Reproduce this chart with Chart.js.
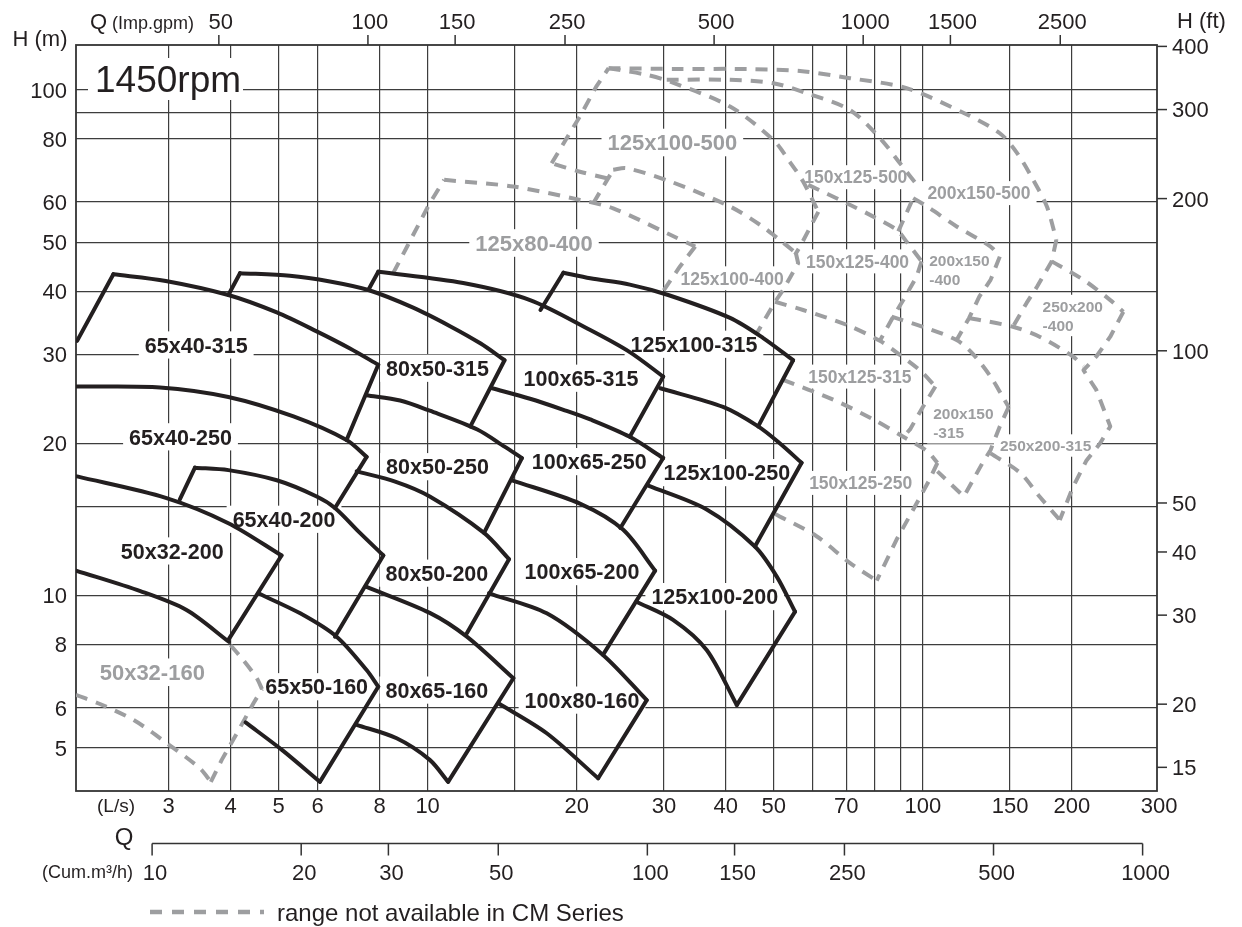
<!DOCTYPE html>
<html>
<head>
<meta charset="utf-8">
<script src="https://cdn.jsdelivr.net/npm/chart.js@4.4.1/dist/chart.umd.min.js"></script>
<style>
  html, body { margin: 0; padding: 0; background: #fff; }
  #wrap { width: 1242px; height: 927px; position: relative; }
</style>
</head>
<body>
<div id="wrap"><canvas id="chart"></canvas></div>
<script>
// Axes: Q in L/s (x, log), H in m (y, log)
const qGrid = [3, 4, 5, 6, 8, 10, 15, 20, 30, 40, 50, 60, 70, 80, 90, 100, 150, 200];
const qTicks = [3, 4, 5, 6, 8, 10, 20, 30, 40, 50, 70, 100, 150, 200, 300];
const hGrid = [5, 6, 8, 10, 15, 20, 30, 40, 50, 60, 80, 90, 100];
const hTicks = [5, 6, 8, 10, 20, 30, 40, 50, 60, 80, 100];
const gpmTicks = [50, 100, 150, 250, 500, 1000, 1500, 2500];
const ftTicks = [15, 20, 30, 40, 50, 100, 200, 300, 400];
const cumTicks = [10, 20, 30, 50, 100, 150, 250, 500, 1000];

// Solid pump ranges: impeller curves as [Q, H]
const t65x40_315 = [[2.32, 43.2], [2.96, 41.9], [3.96, 39.3], [4.96, 36.3], [5.97, 33.3], [6.97, 30.8], [7.95, 28.6]];
const t80x50_315 = [[4.18, 43.4], [5.27, 42.9], [6.35, 41.8], [7.59, 40.2], [9.35, 37.1], [11.1, 34.1], [12.8, 31.5], [14.3, 29.2]];
const t100x65_315 = [[7.95, 43.7], [11.8, 41.5], [16.1, 38.4], [21.3, 33.5], [25.6, 30.3], [29.9, 27.1]];
const t125x100_315 = [[18.8, 43.5], [21.3, 42.4], [25.6, 41.2], [30.6, 39.3], [40.8, 35.4], [47.6, 32.3], [54.7, 29.2]];
const t65x40_250 = [[1.96, 25.9], [2.88, 25.8], [3.96, 24.7], [5.36, 22.6], [6.86, 20.3], [7.53, 18.8]];
const t80x50_250 = [[7.53, 24.9], [8.8, 24.3], [10.1, 23.2], [12.6, 21.3], [14.3, 19.7], [15.5, 18.7]];
const t100x65_250 = [[13.5, 25.7], [16.1, 24.5], [18.8, 23.3], [21.3, 22.3], [25.6, 20.6], [29.9, 18.7]];
const t125x100_250 = [[29.5, 25.7], [39.5, 23.6], [46.5, 21.6], [51.4, 20.0], [56.9, 18.3]];
const t65x40_200 = [[3.39, 17.9], [3.96, 17.7], [4.96, 16.9], [5.97, 15.7], [6.5, 14.9], [7.3, 13.3], [8.14, 12.0]];
const t50x32_200 = [[1.96, 17.2], [2.96, 15.6], [3.96, 13.9], [5.07, 12.0]];
const b50x32_200 = [[1.95, 11.2], [2.63, 10.2], [3.26, 9.36], [3.97, 8.1]];
const t80x50_200 = [[7.19, 17.6], [8.6, 16.8], [10.1, 15.7], [13.0, 13.3], [14.6, 11.8]];
const t100x65_200 = [[14.8, 16.9], [20.3, 15.2], [24.8, 13.5], [28.8, 11.2]];
const t125x100_200 = [[27.9, 16.5], [36.6, 14.8], [45.8, 12.5], [50.7, 10.9], [55.2, 9.29]];
const b125x100_200 = [[26.4, 9.72], [31.3, 8.95], [36.6, 7.8], [42.1, 6.07]];
const t65x50_160 = [[4.55, 10.1], [5.53, 9.22], [6.55, 8.29], [7.53, 7.12], [7.95, 6.6]];
const b65x50_160 = [[4.29, 5.61], [5.08, 4.95], [6.06, 4.28]];
const t80x65_160 = [[7.53, 10.4], [10.1, 9.24], [12.0, 8.29], [14.9, 6.86]];
const b80x65_160 = [[7.19, 5.55], [8.66, 5.22], [10.1, 4.73], [11.0, 4.28]];
const t100x80_160 = [[13.3, 10.1], [17.4, 9.22], [22.6, 7.63], [27.7, 6.21]];
const b100x80_160 = [[13.9, 6.12], [17.4, 5.34], [22.1, 4.35]];

// Solid straight range limits
const solidEdges = [
  [[1.96, 31.9], [2.32, 43.2]], [[7.95, 28.6], [6.86, 20.3]],
  [[3.96, 39.3], [4.18, 43.4]], [[14.3, 29.2], [12.2, 21.6]],
  [[7.59, 40.2], [7.95, 43.7]], [[29.9, 27.1], [25.6, 20.6]],
  [[16.9, 36.7], [18.8, 43.5]], [[54.7, 29.2], [46.5, 21.6]],
  [[7.53, 18.8], [6.5, 14.9]], [[15.5, 18.7], [13.0, 13.3]],
  [[29.9, 18.7], [24.5, 13.6]], [[56.9, 18.3], [45.8, 12.5]],
  [[3.16, 15.5], [3.39, 17.9]], [[8.14, 12.0], [6.5, 8.29]],
  [[5.07, 12.0], [3.96, 8.17]], [[14.6, 11.8], [12.0, 8.42]],
  [[28.8, 11.2], [22.6, 7.63]], [[55.2, 9.29], [42.1, 6.07]],
  [[7.95, 6.6], [6.06, 4.28]], [[14.9, 6.86], [11.0, 4.28]],
  [[27.7, 6.21], [22.1, 4.35]],
];

// Dashed ranges (not in CM series): curved parts
const dashedArcs = [
  [[1.95, 6.36], [2.18, 6.1], [2.55, 5.67], [2.97, 5.11], [3.47, 4.55], [3.65, 4.28]],
  [[4.63, 6.53], [4.52, 6.86], [4.24, 7.46], [3.97, 8.04]],
  [[10.8, 66.4], [14.9, 64.4], [20.3, 60.6], [23.7, 58.3], [30.9, 51.7], [34.7, 49.0]],
  [[23.7, 69.5], [25.2, 70.0], [30.9, 65.9], [40.8, 58.8], [46.9, 54.1], [51.4, 50.5], [55.4, 47.6]],
  [[23.0, 66.9], [20.3, 68.9], [17.8, 71.6]],
  [[23.2, 110.4], [27.7, 107.1], [30.9, 103.8], [40.8, 92.7], [49.9, 79.6], [53.9, 72.0], [57.3, 65.9], [61.5, 57.4]],
  [[23.2, 110.4], [32.3, 110.0], [44.1, 110.0], [56.5, 109.0], [71.2, 105.5], [92.7, 100.8], [123, 89.3], [143, 82.1], [155, 75.0], [167, 66.4], [178, 58.8], [186, 50.5]],
  [[182, 45.8], [211, 42.1], [239, 38.4], [254, 36.4]],
  [[124, 35.4], [152, 34.0], [172, 32.5], [201, 29.7], [211, 28.4]],
  [[30.4, 104.7], [40.8, 104.7], [49.9, 103.1], [58.3, 98.5], [71.2, 91.3], [81.9, 80.3], [89.9, 71.6], [97.9, 64.4]],
  [[95.6, 61.1], [102, 58.8], [117, 53.7], [137, 49.0], [143, 46.8]],
  [[58.7, 64.9], [70.2, 59.7], [78.2, 56.6], [88.5, 52.9], [92.7, 50.1], [99.4, 45.8]],
  [[50.3, 38.1], [57.3, 36.7], [70.2, 34.3], [81.9, 31.9], [87.1, 30.6], [98.6, 27.9], [106, 25.9]],
  [[86.5, 35.6], [100, 34.0], [117, 32.0], [126, 30.1], [137, 27.1], [145, 24.7], [149, 23.6]],
  [[137, 19.1], [157, 17.5], [172, 15.7], [189, 14.1]],
  [[52.2, 26.7], [65.9, 24.4], [79.4, 22.3], [91.3, 20.6], [102, 19.3], [107, 18.3]],
  [[50.3, 14.5], [61.0, 13.1], [71.2, 11.6], [80.7, 10.7]],
];

// Dashed ranges: straight limits
const dashedEdges = [
  [[3.65, 4.28], [3.84, 4.73], [4.12, 5.34], [4.45, 6.12], [4.63, 6.53]],
  [[8.52, 43.4], [10.1, 59.7], [10.8, 66.4]],
  [[34.7, 49.0], [32.3, 44.7], [29.7, 39.6]],
  [[21.6, 59.7], [23.7, 69.5]],
  [[55.4, 47.6], [56.0, 45.4], [52.2, 40.2], [50.3, 38.1], [46.2, 33.0]],
  [[17.8, 71.6], [19.1, 80.3], [20.3, 88.6], [21.9, 101.5], [23.2, 110.4]],
  [[61.5, 57.4], [56.5, 49.0], [55.2, 47.2]],
  [[186, 50.5], [182, 45.8], [170, 40.8], [162, 37.9], [152, 34.0]],
  [[254, 36.4], [239, 32.5], [224, 29.7], [211, 27.9], [224, 25.5], [239, 21.6], [228, 20.0], [214, 18.5], [201, 16.4], [189, 14.1]],
  [[89.2, 52.5], [95.6, 61.1]],
  [[143, 46.8], [137, 42.1], [130, 39.0], [124, 35.4], [117, 32.0]],
  [[99.4, 45.8], [97.1, 42.7], [91.3, 38.4], [87.1, 35.6], [81.9, 31.9]],
  [[106, 25.9], [100, 23.6], [94.2, 21.3], [91.3, 20.6]],
  [[149, 23.6], [143, 21.6], [137, 19.4], [132, 18.3], [121, 15.7], [107, 17.6]],
  [[107, 18.3], [103, 16.9], [97.1, 15.2], [88.5, 12.9], [80.7, 10.7]],
];

// Range names [text, Q, H]
const pumpLabels = [
  ['65x40-315', 3.41, 31.3], ['65x40-250', 3.17, 20.6], ['65x40-200', 5.13, 14.15],
  ['50x32-200', 3.05, 12.25], ['80x50-315', 10.47, 28.15], ['100x65-315', 20.4, 26.9],
  ['80x50-250', 10.47, 17.98], ['100x65-250', 21.2, 18.4], ['80x50-200', 10.44, 11.07],
  ['100x65-200', 20.5, 11.15], ['125x100-315', 34.5, 31.4], ['125x100-250', 40.2, 17.5],
  ['125x100-200', 38.0, 9.95], ['65x50-160', 5.97, 6.6], ['80x65-160', 10.44, 6.5],
  ['100x80-160', 20.5, 6.21],
];
const greyLabels = [
  ['50x32-160', 2.78, 7.05], ['125x100-500', 31.2, 78.7], ['125x80-400', 16.4, 49.8],
];
const greyMidLabels = [
  ['125x100-400', 41.2, 42.4], ['150x125-500', 73.2, 67.2], ['200x150-500', 129.8, 62.5],
  ['150x125-400', 73.8, 45.8], ['150x125-315', 74.6, 27.1], ['150x125-250', 74.9, 16.7],
];
const greyStackLabels = [
  [['200x150', '-400'], 103.0, 44.05], [['250x200', '-400'], 174.5, 35.8],
  [['200x150', '-315'], 104.9, 21.96],
];
const greySmallLabels = [['250x200-315', 177, 19.8]];

const INK = '#231f20';
const GREY = '#9d9ea0';
const GRID = '#3d3d3d';
const FONT = "'Liberation Sans', Arial, Helvetica, sans-serif";

function lineSet(points, color, width, dash, tension, order) {
  return {
    data: points.map(([x, y]) => ({ x, y })),
    showLine: true,
    borderColor: color,
    borderWidth: width,
    borderDash: dash,
    borderCapStyle: dash.length ? 'butt' : 'round',
    borderJoinStyle: 'round',
    tension: tension,
    pointRadius: 0,
    pointHoverRadius: 0,
    fill: false,
    order: order,
  };
}

const solidCurves = [t65x40_315, t80x50_315, t100x65_315, t125x100_315, t65x40_250, t80x50_250,
  t100x65_250, t125x100_250, t65x40_200, t50x32_200, b50x32_200, t80x50_200, t100x65_200,
  t125x100_200, b125x100_200, t65x50_160, b65x50_160, t80x65_160, b80x65_160, t100x80_160, b100x80_160];

const datasets = [];
solidCurves.forEach(c => datasets.push(lineSet(c, INK, 4, [], 0.3, 0)));
solidEdges.forEach(c => datasets.push(lineSet(c, INK, 4, [], 0, 0)));
dashedArcs.forEach(c => datasets.push(lineSet(c, GREY, 4, [12, 9], 0.3, 1)));
dashedEdges.forEach(c => datasets.push(lineSet(c, GREY, 4, [12, 9], 0, 1)));

// draw text with its cap height centred on yc
function put(ctx, str, x, yc, size, align, color, bold) {
  ctx.font = (bold ? 'bold ' : '') + size + 'px ' + FONT;
  ctx.fillStyle = color;
  ctx.textAlign = align;
  ctx.textBaseline = 'alphabetic';
  ctx.fillText(str, x, yc + size * 0.36);
}

function labelBox(ctx, lines, x, yc, size, align, lh) {
  ctx.font = 'bold ' + size + 'px ' + FONT;
  const w = Math.max(...lines.map(s => ctx.measureText(s).width));
  const h = size * 0.8 + (lines.length - 1) * lh;
  const left = align === 'left' ? x : x - w / 2;
  ctx.fillStyle = '#fff';
  ctx.fillRect(left - 6, yc - h / 2 - 5, w + 12, h + 10);
}

function eachLabel(list, size, fn) {
  list.forEach(([t, q, h]) => fn(Array.isArray(t) ? t : [t], q, h, size));
}

const decor = {
  id: 'decor',
  beforeDatasetsDraw(chart) {
    const { ctx, chartArea: a, scales: { x, y } } = chart;
    ctx.save();
    // frame
    ctx.strokeStyle = '#333';
    ctx.lineWidth = 1.8;
    ctx.strokeRect(a.left, a.top, a.right - a.left, a.bottom - a.top);
    // white boxes behind names
    const boxes = (list, size, align, lh) => eachLabel(list, size, (lines, q, h) =>
      labelBox(ctx, lines, x.getPixelForValue(q), y.getPixelForValue(h), size, align, lh));
    boxes(pumpLabels, 21.5, 'center', 0);
    boxes(greyLabels, 22, 'center', 0);
    boxes(greyMidLabels, 17.5, 'center', 0);
    boxes(greySmallLabels, 15.5, 'center', 0);
    boxes(greyStackLabels, 15.5, 'left', 19);
    ctx.fillStyle = '#fff';
    ctx.fillRect(88, 58, 155, 42);
    ctx.restore();
  },
  afterDatasetsDraw(chart) {
    const { ctx, chartArea: a, scales: { x, y } } = chart;
    ctx.save();

    // range names
    eachLabel(pumpLabels, 21.5, (l, q, h, s) => put(ctx, l[0], x.getPixelForValue(q), y.getPixelForValue(h), s, 'center', INK, true));
    eachLabel(greyLabels, 22, (l, q, h, s) => put(ctx, l[0], x.getPixelForValue(q), y.getPixelForValue(h), s, 'center', GREY, true));
    eachLabel(greyMidLabels, 17.5, (l, q, h, s) => put(ctx, l[0], x.getPixelForValue(q), y.getPixelForValue(h), s, 'center', GREY, true));
    eachLabel(greySmallLabels, 15.5, (l, q, h, s) => put(ctx, l[0], x.getPixelForValue(q), y.getPixelForValue(h), s, 'center', GREY, true));
    eachLabel(greyStackLabels, 15.5, (l, q, h, s) => {
      const yc = y.getPixelForValue(h);
      l.forEach((str, i) => put(ctx, str, x.getPixelForValue(q), yc - (l.length - 1) * 9.5 + i * 19, s, 'left', GREY, true));
    });
    put(ctx, '1450rpm', 95, 79, 37, 'left', INK, false);

    // left H (m) and bottom Q (L/s)
    hTicks.forEach(v => put(ctx, String(v), 67, y.getPixelForValue(v), 22, 'right', INK, false));
    put(ctx, 'H (m)', 40, 38, 22, 'center', INK, false);
    qTicks.forEach(v => put(ctx, String(v), x.getPixelForValue(v), 805, 22, 'center', INK, false));
    put(ctx, '(L/s)', 116, 805, 19, 'center', INK, false);

    ctx.strokeStyle = '#333';
    ctx.lineWidth = 1.5;

    // top Q (Imp.gpm)
    gpmTicks.forEach(v => {
      const px = x.getPixelForValue(v / 13.198);
      ctx.beginPath(); ctx.moveTo(px, a.top - 10); ctx.lineTo(px, a.top); ctx.stroke();
      put(ctx, String(v), px + 2, 21, 22, 'center', INK, false);
    });
    put(ctx, 'Q', 90, 21, 22, 'left', INK, false);
    put(ctx, '(Imp.gpm)', 112, 22.5, 18, 'left', INK, false);

    // right H (ft)
    ftTicks.forEach(v => {
      const py = y.getPixelForValue(v / 3.2808);
      ctx.beginPath(); ctx.moveTo(a.right, py); ctx.lineTo(a.right + 10, py); ctx.stroke();
      put(ctx, String(v), 1172, py, 22, 'left', INK, false);
    });
    put(ctx, 'H (ft)', 1177, 20, 22, 'left', INK, false);

    // second Q axis in Cum.m3/h
    const axY = 843.5;
    const x0 = x.getPixelForValue(cumTicks[0] / 3.6);
    const x1 = x.getPixelForValue(cumTicks[cumTicks.length - 1] / 3.6);
    ctx.beginPath(); ctx.moveTo(x0, axY); ctx.lineTo(x1, axY); ctx.stroke();
    cumTicks.forEach(v => {
      const px = x.getPixelForValue(v / 3.6);
      ctx.beginPath(); ctx.moveTo(px, axY); ctx.lineTo(px, axY + 12); ctx.stroke();
      put(ctx, String(v), px + 3, 872, 22, 'center', INK, false);
    });
    put(ctx, 'Q', 124, 836, 24, 'center', INK, false);
    put(ctx, '(Cum.m\u00b3/h)', 133, 872, 18, 'right', INK, false);

    // legend
    ctx.strokeStyle = GREY;
    ctx.lineWidth = 4.5;
    ctx.setLineDash([12, 10]);
    ctx.beginPath(); ctx.moveTo(150, 912); ctx.lineTo(264, 912); ctx.stroke();
    ctx.setLineDash([]);
    put(ctx, 'range not available in CM Series', 277, 912, 24, 'left', INK, false);

    ctx.restore();
  }
};

const ctx = document.getElementById('chart');
new Chart(ctx, {
  type: 'scatter',
  data: { datasets: datasets },
  options: {
    responsive: true,
    maintainAspectRatio: false,
    animation: false,
    events: [],
    layout: { padding: { left: 76, right: 85, top: 45, bottom: 136 } },
    plugins: { legend: { display: false }, tooltip: { enabled: false } },
    scales: {
      x: {
        type: 'logarithmic',
        min: 1.95,
        max: 297,
        afterBuildTicks: (s) => { s.ticks = qGrid.map(v => ({ value: v })); },
        afterFit: (s) => { s.height = 0; },
        ticks: { display: false },
        grid: { color: GRID, lineWidth: 1.2, drawTicks: false },
        border: { display: false },
      },
      y: {
        type: 'logarithmic',
        min: 4.105,
        max: 122.7,
        afterBuildTicks: (s) => { s.ticks = hGrid.map(v => ({ value: v })); },
        afterFit: (s) => { s.width = 0; },
        ticks: { display: false },
        grid: { color: GRID, lineWidth: 1.2, drawTicks: false },
        border: { display: false },
      }
    }
  },
  plugins: [decor]
});
</script>
</body>
</html>
